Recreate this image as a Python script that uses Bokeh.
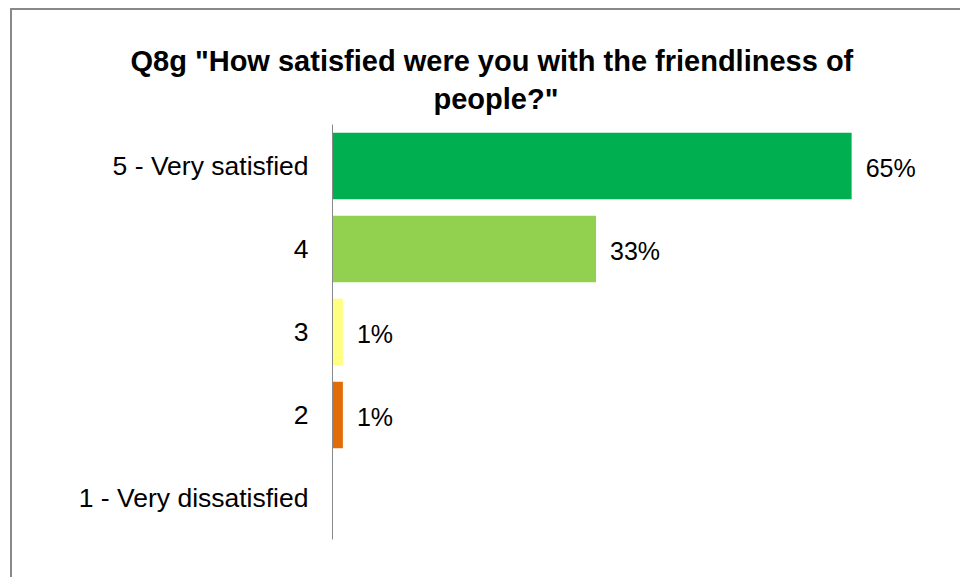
from bokeh.plotting import figure
from bokeh.models import ColumnDataSource, FactorRange, Range1d, Title
from bokeh.core.properties import value
from bokeh.embed import file_html
from bokeh.resources import INLINE

# ---- data ----
categories = ["1 - Very dissatisfied", "2", "3", "4", "5 - Very satisfied"]
percents = [0.0, 1.3, 1.3, 33.0, 65.0]
labels = ["", "1%", "1%", "33%", "65%"]
colors = ["#FFFFFF", "#E36C0A", "#FFFF80", "#92D050", "#00B050"]
title_lines = ['Q8g "How satisfied were you with the friendliness of', 'people?"']

src = ColumnDataSource(dict(cat=categories, pct=percents, lab=labels, col=colors))

p = figure(
    width=948, height=567,
    y_range=FactorRange(factors=categories, range_padding=0),
    x_range=Range1d(0, 75),
    x_axis_location=None,
    output_backend="svg", toolbar_location=None,
    min_border_left=320, min_border_right=31,
    min_border_top=114, min_border_bottom=40,
)
# chart-area border (left and top), as in the original
p.styles = {"margin-left": "10px", "margin-top": "8px",
            "border-left": "2px solid #898989", "border-top": "2px solid #898989",
            "box-sizing": "content-box"}
p.outline_line_color = None
p.grid.visible = False
p.background_fill_color = "white"
p.border_fill_color = "white"

p.hbar(y="cat", right="pct", left=0, height=0.8, color="col", line_color=None, source=src)

p.text(x="pct", y="cat", text="lab", source=src, x_offset=14, y_offset=2,
       text_baseline="middle", text_align="left",
       text_font=value("Liberation Sans"), text_font_size="25px", text_color="black")

ax = p.yaxis[0]
ax.axis_line_color = "#898989"
ax.axis_line_width = 1
ax.major_tick_line_color = None
ax.minor_tick_line_color = None
ax.major_tick_out = 0
ax.major_tick_in = 0
ax.major_label_standoff = 24
ax.major_label_text_font = "Liberation Sans"
ax.major_label_text_font_size = "26.5px"
ax.major_label_text_color = "black"

# small spacer between plot and title
p.add_layout(Title(text=" ", standoff=0, text_font_size="6px"), "above")
# title: second line first (closest to the plot), then first line
for txt, off, so in [(title_lines[1], 101, 4), (title_lines[0], -202, 4)]:
    p.add_layout(Title(text=txt, align="left", offset=off, standoff=so,
                       text_font="Liberation Sans", text_font_style="bold",
                       text_font_size="29px", text_color="black"), "above")

open("out.html", "w").write(file_html(p, INLINE))
